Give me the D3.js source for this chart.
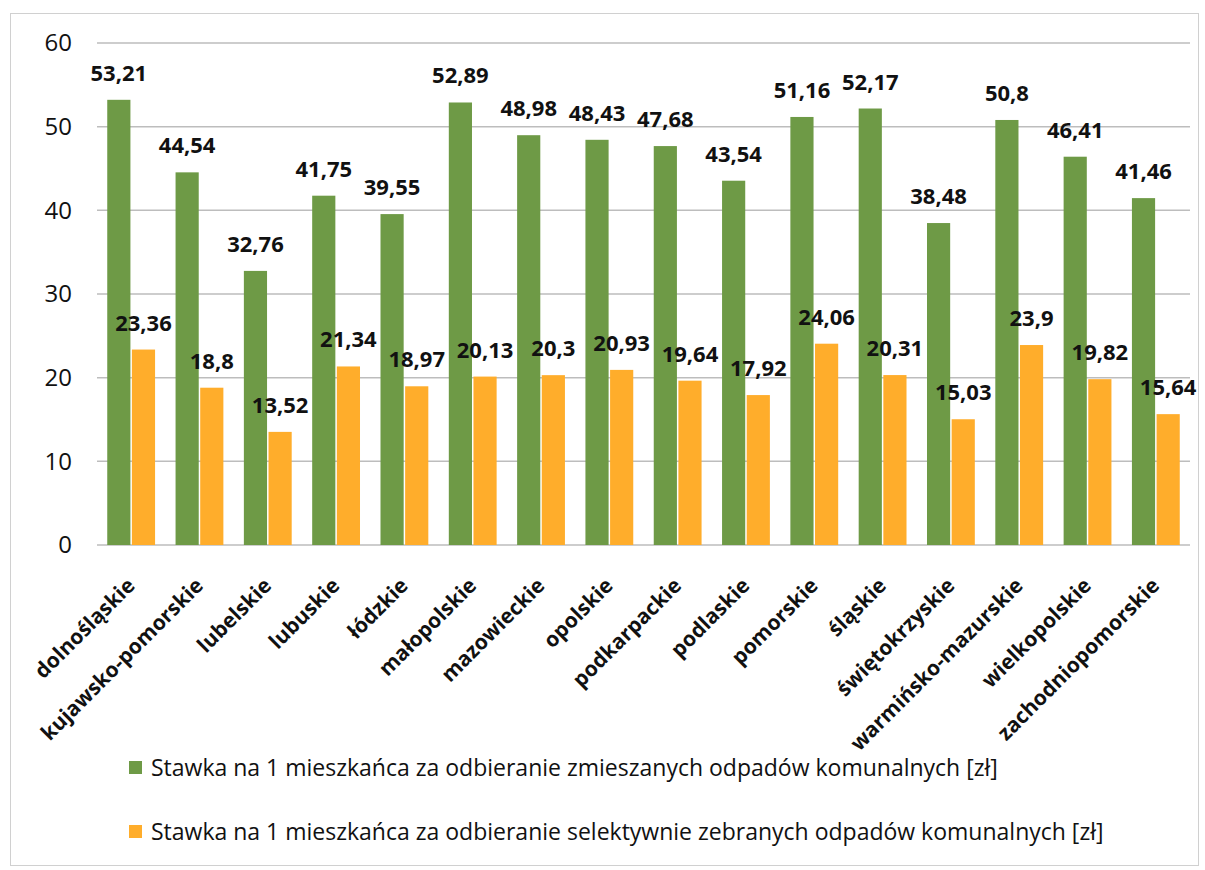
<!DOCTYPE html>
<html><head><meta charset="utf-8">
<script src="https://cdn.jsdelivr.net/npm/d3@7"></script>
<style>body{margin:0;background:#fff;} svg{display:block;}</style>
</head><body>
<svg id="chart" width="1205" height="870"></svg>
<script>
const categories = ["dolnośląskie","kujawsko-pomorskie","lubelskie","lubuskie","łódzkie","małopolskie","mazowieckie","opolskie","podkarpackie","podlaskie","pomorskie","śląskie","świętokrzyskie","warmińsko-mazurskie","wielkopolskie","zachodniopomorskie"];
const mixedValues = [53.21,44.54,32.76,41.75,39.55,52.89,48.98,48.43,47.68,43.54,51.16,52.17,38.48,50.8,46.41,41.46];
const selectiveValues = [23.36,18.8,13.52,21.34,18.97,20.13,20.3,20.93,19.64,17.92,24.06,20.31,15.03,23.9,19.82,15.64];
const seriesNames = ["Stawka na 1 mieszkańca za odbieranie zmieszanych odpadów komunalnych [zł]","Stawka na 1 mieszkańca za odbieranie selektywnie zebranych odpadów komunalnych [zł]"];
const yTicks = [0,10,20,30,40,50,60];
const colors = ["#6e9a46","#ffad2b"];

const svg = d3.select("#chart");
const font = "'Open Sans', sans-serif";
svg.append("rect").attr("x",10.5).attr("y",13.5).attr("width",1188).attr("height",852)
  .attr("fill","none").attr("stroke","#d0d0d0").attr("stroke-width",1);

const L=97, R=1190, T=43, B=545;
const x = d3.scaleBand().domain(categories).range([L,R]).paddingInner(0.3).paddingOuter(0.15);
const xs = d3.scaleBand().domain([0,1]).range([0,x.bandwidth()]).paddingInner(0.06);
const y = d3.scaleLinear().domain([0,60]).range([B,T]);

// gridlines
svg.append("g").selectAll("line").data(yTicks).join("line")
  .attr("x1",L).attr("x2",R).attr("y1",d=>y(d)).attr("y2",d=>y(d))
  .attr("stroke","#bdbdbd").attr("stroke-width",1.5);

// y axis labels
const yAxis = d3.axisLeft(y).tickValues(yTicks).tickSize(0).tickPadding(0).tickFormat(d3.format("d"));
const yg = svg.append("g").attr("transform",`translate(${L-25},0)`).call(yAxis);
yg.select(".domain").remove();
yg.selectAll("text").attr("font-family",font).attr("font-size",24).attr("fill","#111").attr("text-anchor","end").attr("x",0);

const series = [mixedValues, selectiveValues];
series.forEach((vals,si)=>{
  const g = svg.append("g");
  g.selectAll("rect").data(vals).join("rect")
    .attr("x",(d,i)=>x(categories[i])+xs(si))
    .attr("width",xs.bandwidth())
    .attr("y",d=>y(d)).attr("height",d=>B-y(d))
    .attr("fill",colors[si]);
  g.selectAll("text").data(vals).join("text")
    .attr("x",(d,i)=>x(categories[i])+xs(si)+xs.bandwidth()/2)
    .attr("y",d=>y(d)-19)
    .attr("text-anchor","middle")
    .attr("font-family",font).attr("font-weight","bold").attr("font-size",22).attr("fill","#111")
    .text(d=>d3.format(".2~f")(d).replace(".",","));
});

// x axis labels
const xg = svg.append("g");
xg.selectAll("text").data(categories).join("text")
  .attr("transform",d=>`translate(${x(d)+x.bandwidth()/2+5},${B+42}) rotate(-45)`)
  .attr("text-anchor","end")
  .attr("font-family",font).attr("font-weight","bold").attr("font-size",21).attr("fill","#111")
  .text(d=>d);

// legend
const lg = svg.append("g");
seriesNames.forEach((n,i)=>{
  const ly = 776 + i*64;
  lg.append("rect").attr("x",129).attr("y",ly-15).attr("width",13).attr("height",13).attr("fill",colors[i]);
  lg.append("text").attr("x",151).attr("y",ly).attr("font-family",font).attr("font-size",23).attr("fill","#111").text(n);
});
</script>
</body></html>
